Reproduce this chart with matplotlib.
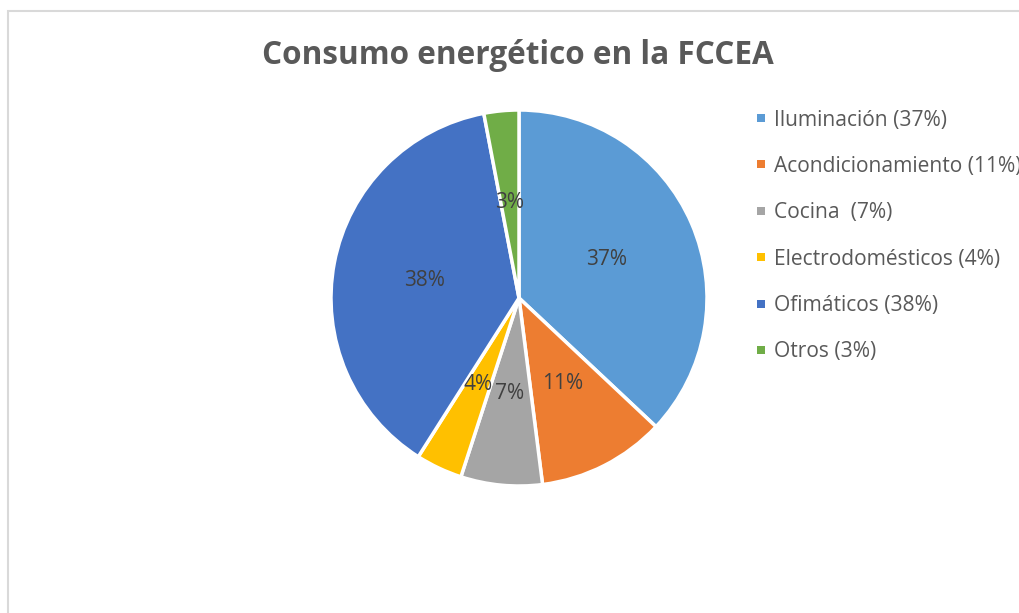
import matplotlib.pyplot as plt
from matplotlib.patches import Rectangle

plt.rcParams['font.family'] = ['Open Sans', 'DejaVu Sans']

categorias = ['Iluminación', 'Acondicionamiento', 'Cocina ', 'Electrodomésticos', 'Ofimáticos', 'Otros']
valores = [37, 11, 7, 4, 38, 3]
colores = ['#5B9BD5', '#ED7D31', '#A5A5A5', '#FFC000', '#4472C4', '#70AD47']

W, H = 1019, 613
fig = plt.figure(figsize=(W / 100, H / 100), dpi=100)

# marco gris del grafico
fig.patches.append(Rectangle((8 / W, -0.1), 1.1, 1 - 11 / H + 0.1, transform=fig.transFigure,
                             fill=False, edgecolor='#D9D9D9', linewidth=1.5))

cx, cy, r = 519, 298, 188
ax = fig.add_axes([(cx - r) / W, (H - cy - r) / H, 2 * r / W, 2 * r / H])
ax.pie(valores, colors=colores, startangle=90, counterclock=False,
       autopct='%1.0f%%', pctdistance=0.51,
       wedgeprops=dict(edgecolor='white', linewidth=2.5),
       textprops=dict(color='#404040', fontsize=15))
ax.set_xlim(-1, 1)
ax.set_ylim(-1, 1)
ax.set_aspect('equal')
ax.axis('off')

fig.text(518 / W, 1 - 56 / H, 'Consumo energético en la FCCEA', ha='center', va='center',
         fontsize=22.7, fontweight='bold', color='#595959')

# leyenda (el texto largo queda cortado en el borde, como en el original)
y0, dy = 120, 46.4
for i, (c, v, col) in enumerate(zip(categorias, valores, colores)):
    y = y0 + i * dy
    fig.patches.append(Rectangle((757 / W, 1 - (y + 2) / H), 8 / W, 8 / H,
                                 transform=fig.transFigure, facecolor=col, edgecolor='none'))
    fig.text(774 / W, 1 - y / H, f'{c} ({v}%)', ha='left', va='center',
             fontsize=15.1, color='#595959')

fig.savefig('out.png', dpi=100)
